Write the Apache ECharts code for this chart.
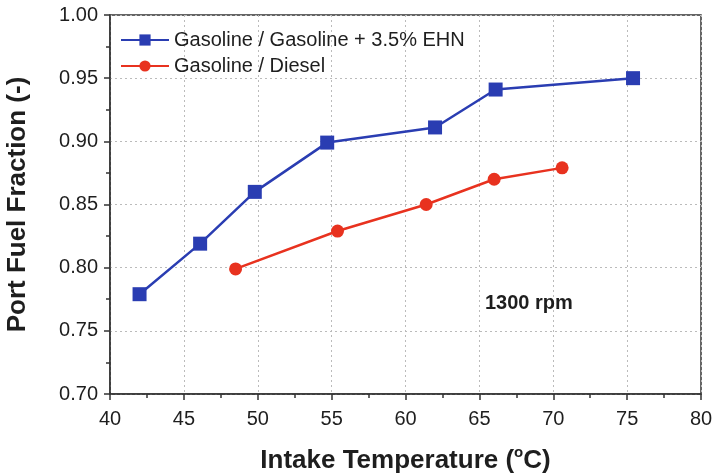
<!DOCTYPE html>
<html>
<head>
<meta charset="utf-8">
<script src="https://cdn.jsdelivr.net/npm/echarts@6/dist/echarts.min.js"></script>
<style>
  html, body { margin: 0; padding: 0; background: #fff; }
  #chart { width: 713px; height: 475px; }
</style>
</head>
<body>
<div id="chart"></div>
<script>
// Intake temperature (°C) and port fuel fraction for each fuel strategy
const ehnTemp = [42.0, 46.1, 49.8, 54.7, 62.0, 66.1, 75.4];
const ehnPFF  = [0.779, 0.819, 0.860, 0.899, 0.911, 0.941, 0.950];
const dieselTemp = [48.5, 55.4, 61.4, 66.0, 70.6];
const dieselPFF  = [0.799, 0.829, 0.850, 0.870, 0.879];

const seriesNames = ['Gasoline / Gasoline + 3.5% EHN', 'Gasoline / Diesel'];
const xTicks = [40, 45, 50, 55, 60, 65, 70, 75, 80];
const yTicks = [0.70, 0.75, 0.80, 0.85, 0.90, 0.95, 1.00];
const noteText = '1300 rpm';

const FONT = '"Liberation Sans", Arial, Helvetica, sans-serif';
const BLUE = '#2a3db2';
const RED = '#e8321f';
const INK = '#1e1e1e';

const zip = (xs, ys) => xs.map((x, i) => [x, ys[i]]);

const chart = echarts.init(document.getElementById('chart'), null, { renderer: 'canvas' });

chart.setOption({
  animation: false,
  backgroundColor: '#fff',
  textStyle: { fontFamily: FONT },
  grid: {
    left: 110, right: 12, top: 15, bottom: 81,
    outerBoundsMode: 'none',
    show: true, borderColor: '#333', borderWidth: 1.5, backgroundColor: 'transparent'
  },
  legend: {
    orient: 'vertical',
    left: 115, top: 25,
    itemWidth: 48, itemHeight: 14, itemGap: 6,
    textStyle: { fontFamily: FONT, fontSize: 20, color: INK },
    data: seriesNames
  },
  xAxis: {
    type: 'value',
    min: xTicks[0], max: xTicks[xTicks.length - 1], interval: 5,
    name: 'Intake Temperature ({s|o}C)',
    nameLocation: 'middle', nameGap: 51,
    nameTextStyle: {
      fontFamily: FONT, fontSize: 26, fontWeight: 'bold', color: INK,
      rich: { s: { fontFamily: FONT, fontSize: 15, fontWeight: 'bold', color: INK, verticalAlign: 'top', padding: [0, 0, 17, 0] } }
    },
    axisLine: { lineStyle: { color: '#333', width: 1.5 } },
    axisTick: { show: true, inside: false, length: 6, lineStyle: { color: '#333', width: 1.5 } },
    minorTick: { show: true, splitNumber: 2, length: 4, lineStyle: { color: '#333', width: 1.5 } },
    axisLabel: { fontFamily: FONT, fontSize: 20, color: INK, margin: 15 },
    splitLine: { show: true, lineStyle: { color: '#bbb', type: [2, 3], width: 1 } }
  },
  yAxis: {
    type: 'value',
    min: yTicks[0], max: yTicks[yTicks.length - 1], interval: 0.05,
    name: 'Port Fuel Fraction (-)',
    nameLocation: 'middle', nameGap: 79,
    nameTextStyle: { fontFamily: FONT, fontSize: 26, fontWeight: 'bold', color: INK },
    axisLine: { show: true, lineStyle: { color: '#333', width: 1.5 } },
    axisTick: { show: true, inside: false, length: 6, lineStyle: { color: '#333', width: 1.5 } },
    minorTick: { show: true, splitNumber: 2, length: 4, lineStyle: { color: '#333', width: 1.5 } },
    axisLabel: { fontFamily: FONT, fontSize: 20, color: INK, margin: 12, formatter: v => v.toFixed(2) },
    splitLine: { show: true, lineStyle: { color: '#bbb', type: [2, 3], width: 1 } }
  },
  series: [
    {
      name: seriesNames[0], type: 'line',
      data: zip(ehnTemp, ehnPFF),
      symbol: 'rect', symbolSize: 14,
      itemStyle: { color: BLUE },
      lineStyle: { color: BLUE, width: 2.5 },
      z: 3
    },
    {
      name: seriesNames[1], type: 'line',
      data: zip(dieselTemp, dieselPFF),
      symbol: 'circle', symbolSize: 13,
      itemStyle: { color: RED },
      lineStyle: { color: RED, width: 2.5 },
      z: 3
    },
    {
      // speed annotation placed in data space
      type: 'scatter', silent: true, symbolSize: 0,
      itemStyle: { opacity: 1 },
      data: [[68.35, 0.772]],
      label: {
        show: true, position: 'inside', formatter: noteText,
        fontFamily: FONT, fontSize: 20, fontWeight: 'bold', color: INK
      }
    }
  ]
});
</script>
</body>
</html>
